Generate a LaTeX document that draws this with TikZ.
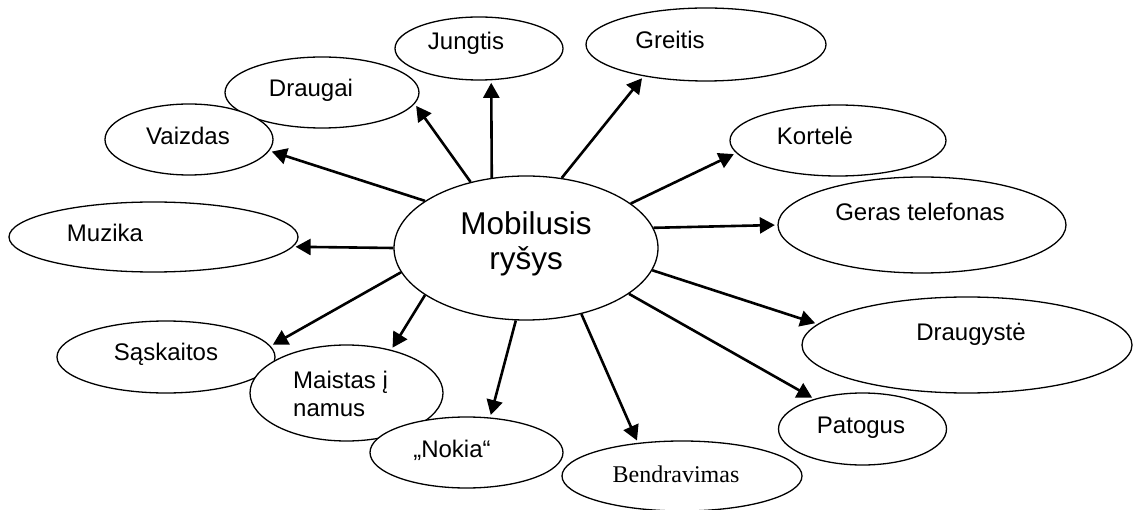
\documentclass[tikz,border=0pt]{standalone}
\usepackage{fontspec}
\setmainfont{Liberation Sans}
\newfontfamily\timesfont{Liberation Serif}
\usetikzlibrary{shapes.geometric,arrows.meta}
\tikzset{
  bubble/.style={ellipse, draw, line width=1.3pt, fill=white, inner sep=0pt},
  word/.style={anchor=base, inner sep=0pt, font=\fontsize{24}{28}\selectfont},
  leftword/.style={word, anchor=base west},
  bigword/.style={anchor=base, inner sep=0pt, font=\fontsize{31.5}{36}\selectfont},
  link/.style={line width=2.6pt, shorten >=2.5pt, -{Triangle[length=15pt,width=16pt]}},
}
\begin{document}
\begin{tikzpicture}[x=1pt,y=-1pt]
\useasboundingbox (0,0) rectangle (1134,510);

% central bubble
\node[bubble, minimum width=264pt, minimum height=144pt] (c) at (526,248) {};
\node[bigword] (c1) at (526,235) {Mobilusis};
\node[bigword] (c2) at (526,270) {ryšys};

% surrounding bubbles
\node[bubble, minimum width=194pt, minimum height=71pt] (draugai) at (322,92.5) {};
\node[bubble, minimum width=168pt, minimum height=71pt] (vaizdas) at (189,139.5) {};
\node[bubble, minimum width=168pt, minimum height=63pt] (jungtis) at (479,48.5) {};
\node[bubble, minimum width=240pt, minimum height=73pt] (greitis) at (706,44.5) {};
\node[bubble, minimum width=216pt, minimum height=71pt] (kortele) at (838,140.5) {};
\node[bubble, minimum width=288pt, minimum height=96pt] (geras) at (922,225) {};
\node[bubble, minimum width=289pt, minimum height=70pt] (muzika) at (153.5,237) {};
\node[bubble, minimum width=330pt, minimum height=96pt] (draugyste) at (967,345) {};
\node[bubble, minimum width=168pt, minimum height=72pt] (patogus) at (862.5,429) {};
\node[bubble, minimum width=240pt, minimum height=70pt] (bendr) at (682,476) {};
\node[bubble, minimum width=218pt, minimum height=72pt] (saskaitos) at (166,357) {};
\node[bubble, minimum width=193pt, minimum height=96pt] (maistas) at (346.5,393) {};
\node[bubble, minimum width=193pt, minimum height=71pt] (nokia) at (466.5,452.5) {};

% labels
\node[word] (jungtis-t) at (466,50) {Jungtis};
\node[word] (draugai-t) at (311,97) {Draugai};
\node[word] (vaizdas-t) at (188,145) {Vaizdas};
\node[word] (muzika-t) at (105,242) {Muzika};
\node[word] (greitis-t) at (670,49) {Greitis};
\node[word] (kortele-t) at (815,145) {Kortelė};
\node[word] (geras-t) at (920,221) {Geras telefonas};
\node[word] (draugyste-t) at (971,341) {Draugystė};
\node[word] (patogus-t) at (861,433) {Patogus};
\node[word, font=\timesfont\fontsize{24}{28}\selectfont] (bendr-t) at (676,482) {Bendravimas};
\node[word] (saskaitos-t) at (166,360) {Sąskaitos};
\node[leftword] (maistas-t1) at (293,388) {Maistas į};
\node[leftword] (maistas-t2) at (293,416) {namus};
\node[word] (nokia-t) at (452,457) {„Nokia“};

% connectors
\draw[link] (c.155.6)  -- (vaizdas.-8.9);
\draw[link] (c.130.2)  -- (draugai.-7.9);
\draw[link] (c.116.6)  -- (jungtis.-69);
\draw[link] (c.63.1)   -- (greitis.-153.1);
\draw[link] (c.23.7)   -- (kortele.-173.4);
\draw[link] (c.9.9)    -- (geras.180);
\draw[link] (c.180)    -- (muzika.-4.7);
\draw[link] (c.-10.7)  -- (draugyste.172);
\draw[link] (c.-24.2)  -- (patogus.148.5);
\draw[link] (c.-50.2)  -- (bendr.143.7);
\draw[link] (c.-98.7)  -- (nokia.56.1);
\draw[link] (c.-155.6) -- (maistas.44.7);
\draw[link] (c.-169.2) -- (saskaitos.6.8);
\end{tikzpicture}
\end{document}
